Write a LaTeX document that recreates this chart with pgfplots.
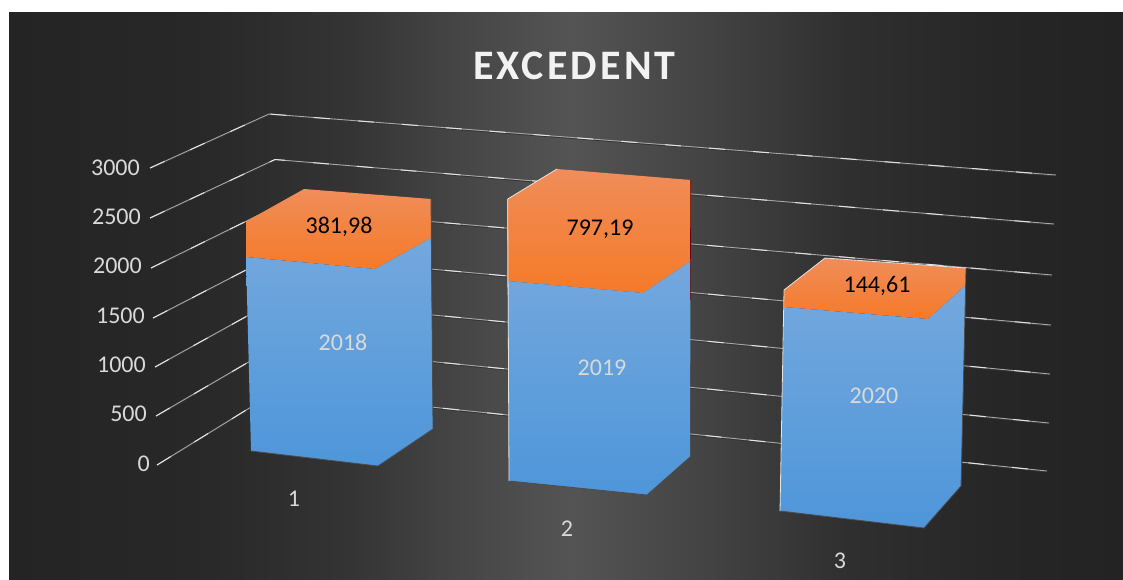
\documentclass[border=0pt]{standalone}
\usepackage{pgfplots}
\pgfplotsset{compat=1.18}
\usepackage{fontspec}
\setmainfont{Carlito}
\definecolor{g0}{HTML}{242424}
\definecolor{g1}{HTML}{282828}
\definecolor{g2}{HTML}{343434}
\definecolor{g3}{HTML}{444444}
\definecolor{g4}{HTML}{545454}
\definecolor{g5}{HTML}{444444}
\definecolor{g6}{HTML}{2F2F2F}
\definecolor{g7}{HTML}{262626}
\definecolor{g8}{HTML}{232323}
\pgfdeclarehorizontalshading{bg}{100bp}{color(0bp)=(g0); color(25bp)=(g0); color(33.6bp)=(g1); color(40.3bp)=(g2); color(44.8bp)=(g3); color(50.2bp)=(g4); color(56bp)=(g5); color(62.7bp)=(g6); color(69.5bp)=(g7); color(75bp)=(g8); color(100bp)=(g8)}
\definecolor{orT}{HTML}{F08D5A}
\definecolor{orB}{HTML}{F57A28}
\definecolor{blT}{HTML}{74A8DD}
\definecolor{blB}{HTML}{4E96DA}
\definecolor{gridc}{HTML}{A8A8A8}
\definecolor{gridh}{HTML}{E4E4E4}
\definecolor{lab}{HTML}{D9D9D9}
\newcommand\gl[1]{%
  \addplot[black!80,line width=.9pt,yshift=-1pt] coordinates {#1};
  \addplot[gridc,line width=.9pt] coordinates {#1};
  \addplot[gridh,line width=1pt,dash pattern=on 16pt off 28pt] coordinates {#1};}
\newcommand\barp[2]{%
  \addplot[draw=none,top color=orT,bottom color=orB] coordinates {#1} -- cycle;
  \addplot[draw=none,top color=blT,bottom color=blB] coordinates {#2} -- cycle;}
\newcommand\lbl[4]{\node[text=#3,font=\fontsize{#4}{#4}\selectfont,inner sep=0pt,anchor=center] at (axis cs:#1) {#2};}
\newcommand\tl[2]{\node[text=lab,font=\fontsize{24}{24}\selectfont,inner sep=0pt,anchor=east] at (axis cs:#1) {#2};}
\begin{document}
\begin{tikzpicture}
\begin{axis}[
  scale only axis,width=1123pt,height=579pt,
  xmin=0,xmax=1123,ymin=0,ymax=579,y dir=reverse,
  hide axis,clip=true]
\addplot[fill=white,draw=none] coordinates {(0,0)(1123,0)(1123,579)(0,579)} -- cycle;
\addplot[draw=none,shading=bg] coordinates {(9,12)(1123,12)(1123,579)(9,579)} -- cycle;
% grid lines
\gl{(150,168)(269,114)(1056,175)}
\gl{(150,218)(275,159.5)(1054,224)}
\gl{(151,268)(273,208)(1052,275)}
\gl{(153,318)(275,255)(1051,325)}
\gl{(155,367)(276,300)(1050,374)}
\gl{(156,416)(276,346)(1049,423)}
\gl{(157,465)(277,391)(1047,471)}
% bars
\barp{(246,221.5)(304,189)(431,199)(431,238)(375,269)(246,257)}{(246,257)(375,269)(431,238)(433,429)(378,466)(251,451)}
\barp{(507.7,199)(557,169)(690.7,180)(690.5,261)(643,293)(507.7,281)}{(507.7,281)(643,293)(690.5,261)(690,457)(647,495)(509,481)}
\barp{(784,290)(825,258)(966,268)(965.7,285)(928,319)(784,307)}{(784,307)(928,319)(965.7,285)(961,486)(924,528)(780,511)}
% edges
\addplot[black!70,line width=.8pt] coordinates {(251,451)(378,466)(433,429)(431,199)};
\addplot[black!70,line width=.8pt] coordinates {(509,481)(647,495)(690,457)};
\addplot[black!70,line width=.8pt] coordinates {(780,511)(924,528)(961,486)(966,268)};
\addplot[gridh,line width=.8pt] coordinates {(509,481)(507.7,199)(557,169)};
\addplot[gridh,line width=.8pt] coordinates {(780,511)(784,290)(825,258)(966,268)};
\addplot[black!60!red,line width=.6pt] coordinates {(690.7,180)(690.3,300)};
% labels
\node[text=white!95!black,inner sep=0pt,anchor=center,font=\fontsize{42}{42}\selectfont\bfseries\addfontfeatures{LetterSpace=7.5}] at (axis cs:574.5,65.5) {EXCEDENT};
\tl{140,168}{3000}
\tl{141,217}{2500}
\tl{142,266}{2000}
\tl{145,316}{1500}
\tl{146,365}{1000}
\tl{147,414}{500}
\tl{150,464}{0}
\lbl{294,499}{1}{lab}{24}
\lbl{567,529}{2}{lab}{24}
\lbl{840,561}{3}{lab}{24}
\lbl{339,227}{381,98}{black}{24}
\lbl{600,229}{797,19}{black}{24}
\lbl{877,286}{144,61}{black}{24}
\lbl{343,342}{2018}{lab}{24}
\lbl{602,368}{2019}{lab}{24}
\lbl{874,396}{2020}{lab}{24}
\end{axis}
\end{tikzpicture}
\end{document}
